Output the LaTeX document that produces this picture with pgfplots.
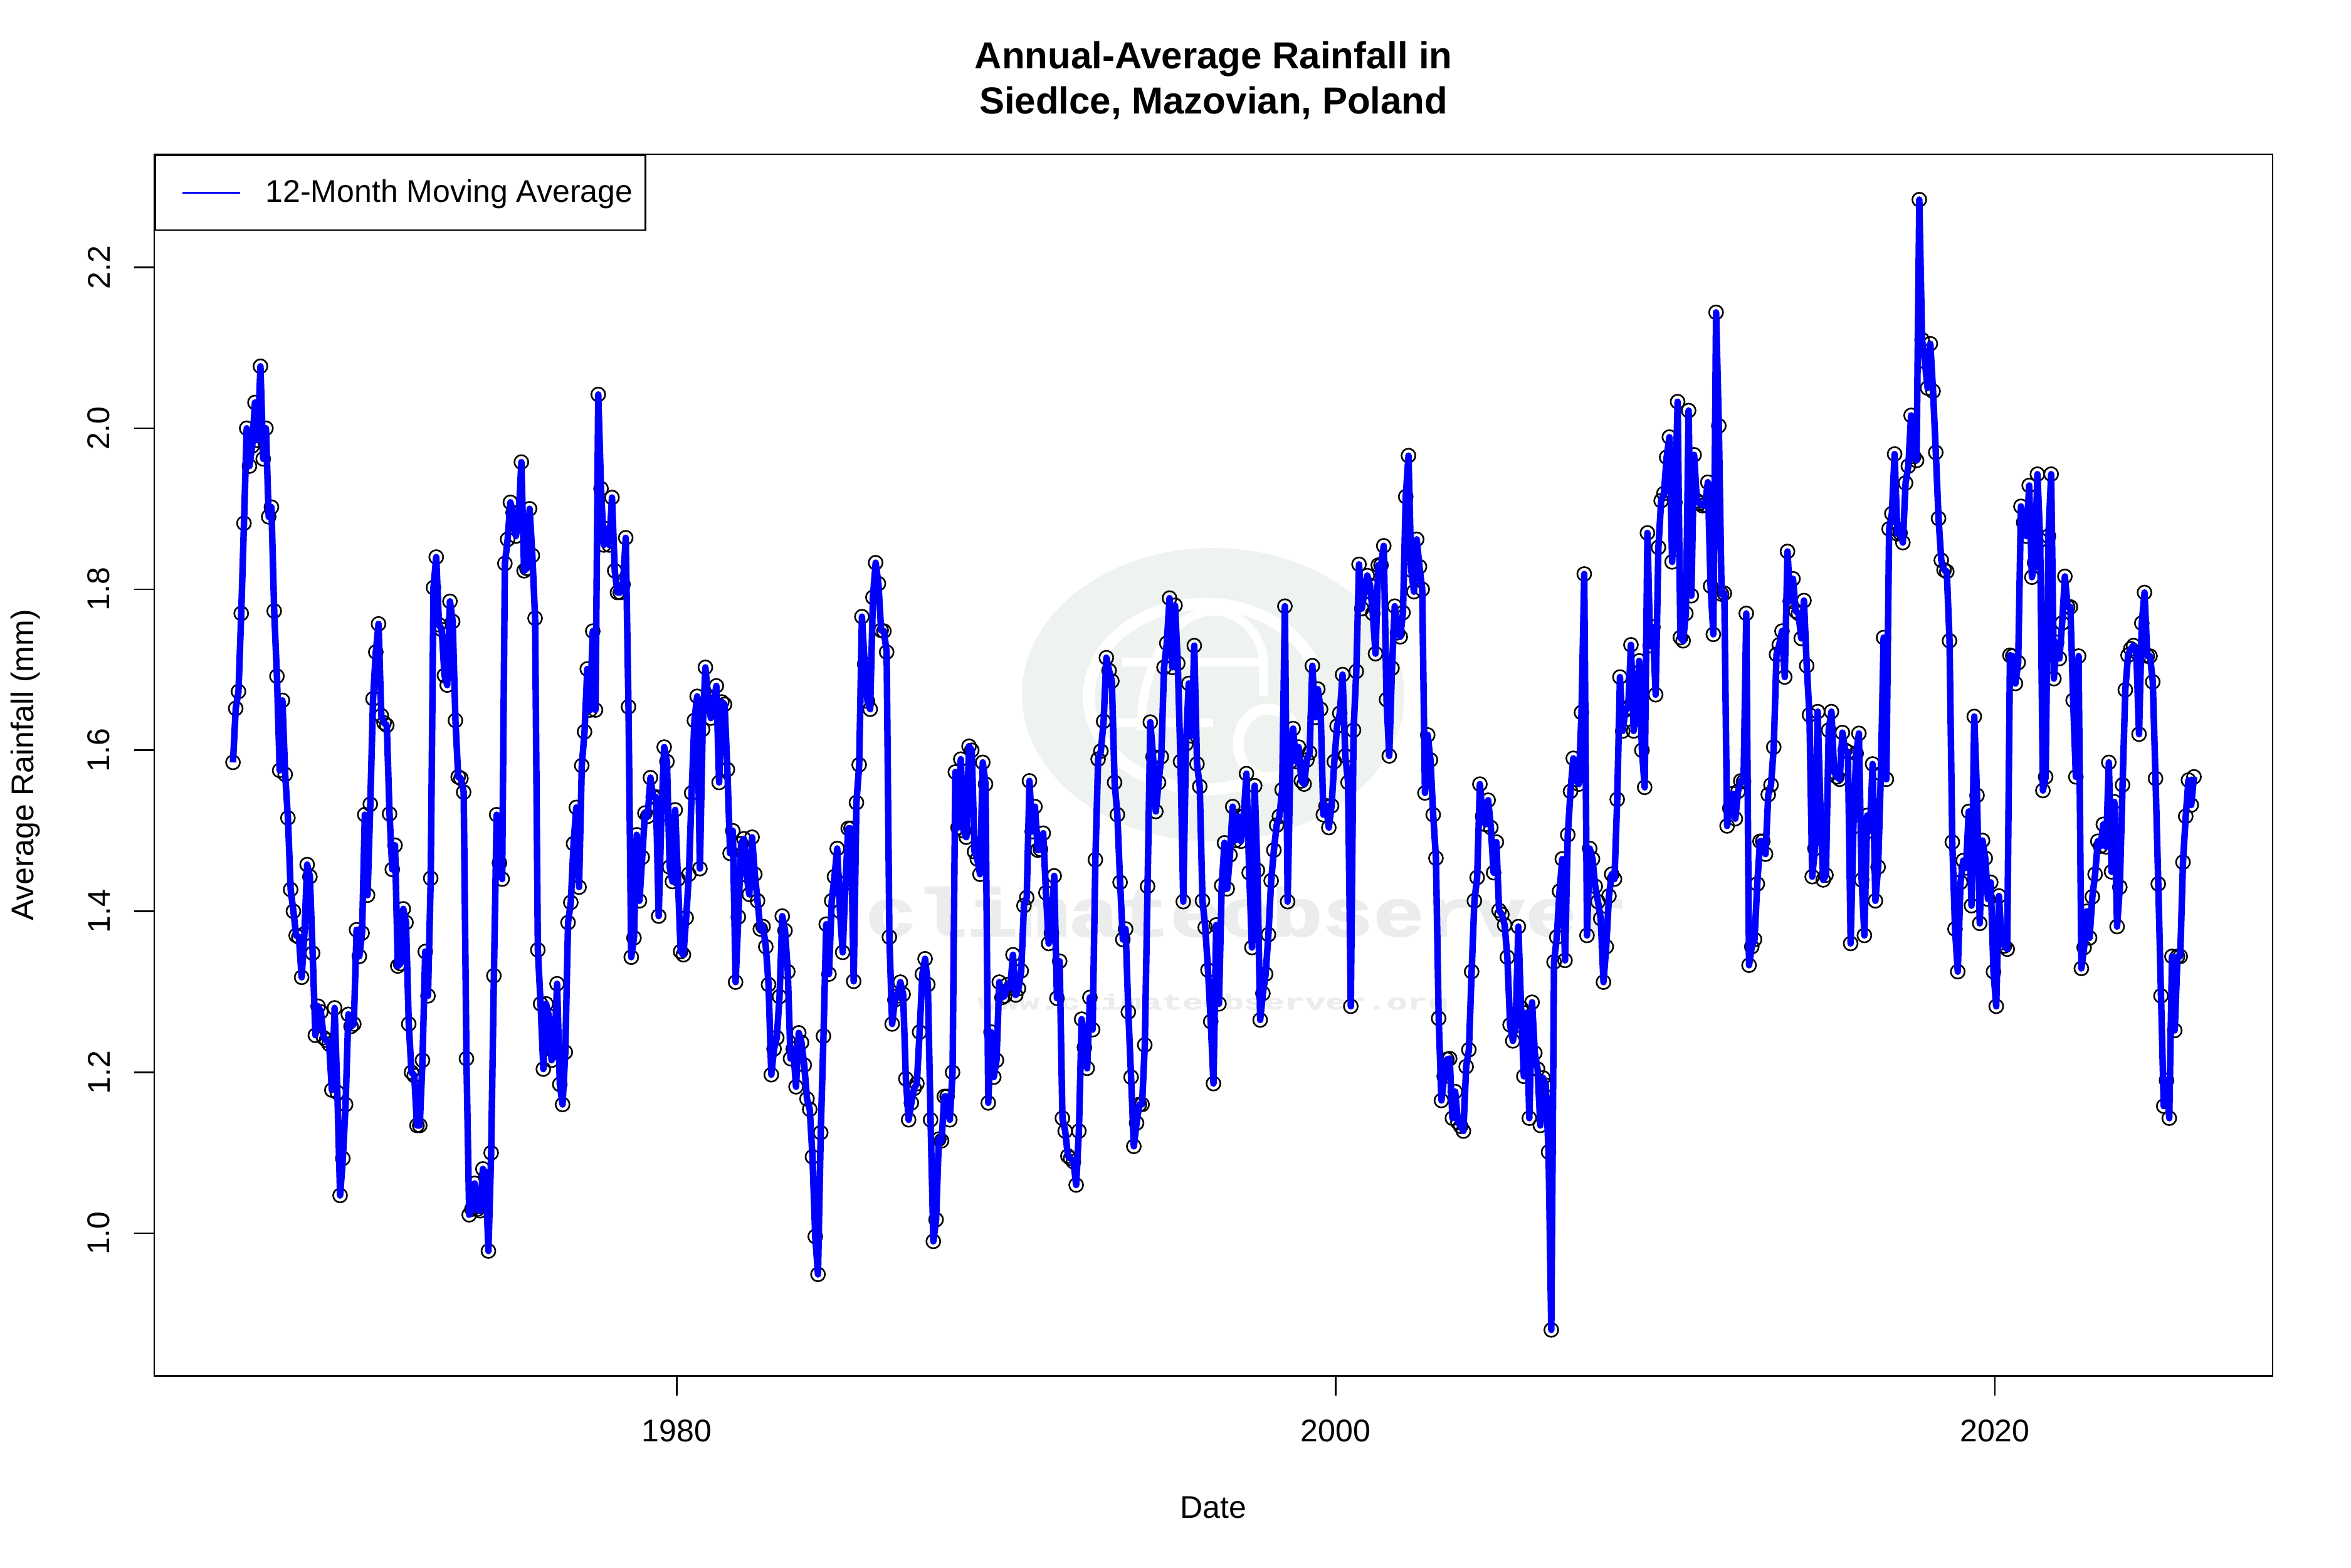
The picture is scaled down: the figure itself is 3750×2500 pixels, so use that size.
\documentclass[border=0pt]{standalone}
\usepackage{fontspec}
\setmainfont{Liberation Sans}
\newfontfamily\wmfont[BoldFeatures={FakeBold=2}]{Liberation Mono}
\usepackage{pgfplots}
\usepackage{pgfplotstable}
\pgfplotsset{compat=1.18}

\definecolor{wmgreen}{HTML}{EFF3F0}
\definecolor{wmgrey}{HTML}{EBECEC}

% monthly 12-month moving average, from Jul 1966, one row per year
\pgfplotstableread[row sep=\\]{
v\\
1.585\\1.652\\1.673\\1.770\\1.882\\2.000\\
1.953\\1.978\\2.032\\1.985\\2.077\\1.962\\2.000\\1.890\\1.902\\1.773\\1.692\\1.575\\
1.662\\1.570\\1.516\\1.427\\1.400\\1.370\\1.368\\1.318\\1.372\\1.458\\1.443\\1.348\\
1.246\\1.282\\1.275\\1.243\\1.240\\1.235\\1.178\\1.280\\1.175\\1.047\\1.093\\1.160\\
1.272\\1.257\\1.260\\1.377\\1.344\\1.373\\1.520\\1.420\\1.533\\1.664\\1.722\\1.757\\
1.643\\1.634\\1.631\\1.521\\1.452\\1.482\\1.332\\1.335\\1.403\\1.386\\1.260\\1.200\\
1.196\\1.134\\1.134\\1.215\\1.350\\1.295\\1.441\\1.802\\1.840\\1.756\\1.750\\1.693\\
1.681\\1.785\\1.760\\1.637\\1.567\\1.565\\1.548\\1.217\\1.023\\1.030\\1.062\\1.030\\
1.028\\1.080\\1.070\\0.978\\1.100\\1.320\\1.520\\1.460\\1.440\\1.832\\1.862\\1.908\\
1.895\\1.866\\1.888\\1.958\\1.823\\1.826\\1.900\\1.842\\1.764\\1.352\\1.285\\1.204\\
1.285\\1.270\\1.215\\1.225\\1.310\\1.185\\1.160\\1.225\\1.386\\1.411\\1.484\\1.529\\
1.430\\1.581\\1.623\\1.701\\1.650\\1.748\\1.650\\2.042\\1.925\\1.855\\1.875\\1.855\\
1.914\\1.823\\1.796\\1.796\\1.806\\1.864\\1.654\\1.343\\1.367\\1.495\\1.413\\1.467\\
1.522\\1.518\\1.566\\1.542\\1.542\\1.394\\1.520\\1.604\\1.586\\1.455\\1.437\\1.526\\
1.440\\1.350\\1.346\\1.392\\1.446\\1.547\\1.637\\1.667\\1.453\\1.626\\1.703\\1.665\\
1.640\\1.660\\1.680\\1.560\\1.660\\1.657\\1.576\\1.472\\1.500\\1.312\\1.393\\1.484\\
1.490\\1.445\\1.421\\1.492\\1.446\\1.413\\1.378\\1.381\\1.356\\1.309\\1.197\\1.229\\
1.243\\1.294\\1.394\\1.376\\1.325\\1.217\\1.229\\1.182\\1.249\\1.237\\1.209\\1.167\\
1.154\\1.095\\0.996\\0.949\\1.125\\1.245\\1.384\\1.322\\1.413\\1.443\\1.478\\1.400\\
1.349\\1.435\\1.503\\1.503\\1.313\\1.535\\1.582\\1.766\\1.707\\1.661\\1.651\\1.790\\
1.833\\1.807\\1.749\\1.748\\1.722\\1.368\\1.260\\1.290\\1.295\\1.312\\1.297\\1.192\\
1.141\\1.162\\1.180\\1.186\\1.250\\1.322\\1.341\\1.309\\1.141\\0.990\\1.017\\1.117\\
1.115\\1.170\\1.170\\1.141\\1.200\\1.573\\1.504\\1.589\\1.500\\1.492\\1.605\\1.600\\
1.474\\1.465\\1.446\\1.585\\1.558\\1.162\\1.250\\1.194\\1.215\\1.312\\1.293\\1.295\\
1.309\\1.305\\1.346\\1.296\\1.304\\1.326\\1.407\\1.417\\1.562\\1.499\\1.530\\1.476\\
1.477\\1.497\\1.423\\1.360\\1.373\\1.444\\1.292\\1.338\\1.143\\1.127\\1.096\\1.093\\
1.089\\1.060\\1.127\\1.266\\1.231\\1.205\\1.293\\1.253\\1.464\\1.589\\1.599\\1.636\\
1.715\\1.699\\1.686\\1.560\\1.520\\1.436\\1.365\\1.378\\1.275\\1.194\\1.108\\1.137\\
1.160\\1.160\\1.234\\1.431\\1.635\\1.592\\1.524\\1.560\\1.592\\1.703\\1.733\\1.789\\
1.703\\1.780\\1.708\\1.586\\1.412\\1.608\\1.683\\1.618\\1.730\\1.583\\1.555\\1.413\\
1.380\\1.327\\1.263\\1.186\\1.383\\1.285\\1.432\\1.485\\1.428\\1.470\\1.530\\1.488\\
1.518\\1.487\\1.518\\1.571\\1.448\\1.355\\1.556\\1.451\\1.265\\1.298\\1.322\\1.371\\
1.438\\1.476\\1.507\\1.518\\1.551\\1.779\\1.412\\1.586\\1.627\\1.586\\1.604\\1.562\\
1.558\\1.588\\1.597\\1.705\\1.641\\1.676\\1.651\\1.520\\1.531\\1.504\\1.531\\1.586\\
1.630\\1.646\\1.694\\1.593\\1.560\\1.282\\1.625\\1.698\\1.831\\1.776\\1.797\\1.817\\
1.805\\1.770\\1.720\\1.830\\1.830\\1.854\\1.663\\1.593\\1.702\\1.779\\1.746\\1.741\\
1.771\\1.915\\1.966\\1.824\\1.797\\1.862\\1.828\\1.800\\1.547\\1.619\\1.588\\1.520\\
1.466\\1.267\\1.165\\1.195\\1.216\\1.217\\1.143\\1.176\\1.138\\1.133\\1.127\\1.207\\
1.228\\1.325\\1.413\\1.442\\1.558\\1.518\\1.508\\1.538\\1.504\\1.448\\1.486\\1.401\\
1.396\\1.383\\1.343\\1.259\\1.239\\1.258\\1.381\\1.280\\1.195\\1.274\\1.143\\1.287\\
1.224\\1.204\\1.134\\1.193\\1.184\\1.101\\0.880\\1.337\\1.368\\1.425\\1.465\\1.339\\
1.495\\1.549\\1.590\\1.564\\1.558\\1.647\\1.819\\1.370\\1.478\\1.465\\1.431\\1.412\\
1.391\\1.312\\1.356\\1.419\\1.446\\1.440\\1.539\\1.691\\1.624\\1.650\\1.653\\1.731\\
1.624\\1.656\\1.711\\1.600\\1.554\\1.870\\1.730\\1.753\\1.669\\1.852\\1.910\\1.919\\
1.964\\1.989\\1.834\\1.908\\2.033\\1.740\\1.736\\1.770\\2.022\\1.792\\1.967\\1.910\\
1.907\\1.904\\1.905\\1.933\\1.804\\1.744\\2.144\\2.003\\1.794\\1.795\\1.506\\1.528\\
1.546\\1.515\\1.549\\1.562\\1.561\\1.770\\1.333\\1.356\\1.365\\1.434\\1.487\\1.487\\
1.471\\1.545\\1.557\\1.604\\1.719\\1.731\\1.748\\1.691\\1.847\\1.785\\1.813\\1.773\\
1.770\\1.739\\1.786\\1.705\\1.644\\1.443\\1.478\\1.648\\1.526\\1.439\\1.445\\1.625\\
1.648\\1.573\\1.567\\1.564\\1.622\\1.600\\1.598\\1.360\\1.505\\1.596\\1.621\\1.439\\
1.370\\1.519\\1.500\\1.583\\1.413\\1.455\\1.571\\1.740\\1.564\\1.875\\1.894\\1.968\\
1.869\\1.870\\1.858\\1.932\\1.953\\2.016\\1.965\\1.960\\2.284\\2.110\\2.083\\2.050\\
2.105\\2.046\\1.970\\1.888\\1.836\\1.824\\1.822\\1.736\\1.486\\1.378\\1.325\\1.436\\
1.463\\1.454\\1.524\\1.407\\1.642\\1.544\\1.385\\1.488\\1.466\\1.415\\1.436\\1.325\\
1.282\\1.419\\1.361\\1.357\\1.353\\1.718\\1.717\\1.683\\1.709\\1.903\\1.883\\1.866\\
1.929\\1.815\\1.833\\1.943\\1.861\\1.550\\1.567\\1.866\\1.943\\1.689\\1.734\\1.714\\
1.758\\1.816\\1.778\\1.778\\1.662\\1.567\\1.717\\1.329\\1.355\\1.400\\1.367\\1.418\\
1.446\\1.487\\1.481\\1.508\\1.480\\1.585\\1.449\\1.536\\1.381\\1.430\\1.557\\1.675\\
1.718\\1.726\\1.730\\1.722\\1.620\\1.758\\1.796\\1.717\\1.717\\1.685\\1.565\\1.434\\
1.295\\1.158\\1.190\\1.143\\1.344\\1.252\\1.344\\1.344\\1.461\\1.518\\1.563\\1.532\\
1.567\\
}\rain

\begin{document}
\begin{tikzpicture}
  % page frame and watermark, in reference pixels
  \begin{scope}[x=0.004in,y=-0.004in,yshift=10in]
    \useasboundingbox (0,0) rectangle (3750,2500);
    \fill[wmgreen] (1935,1108) ellipse [x radius=305,y radius=234];
    \draw[white,line width=5.5pt] (1985,1250) arc [start angle=70,end angle=340,x radius=185,y radius=148,shift={(0,0)}];
    \draw[white,line width=4pt] (1790,1056) -- (2023,1056);
    \draw[white,line width=4pt] (1782,1153) -- (1935,1153);
    \draw[white,line width=4pt] (1935,975) arc [start angle=-90,end angle=-180,x radius=115,y radius=190];
    \draw[white,line width=4pt] (1935,975) arc [start angle=-90,end angle=0,x radius=80,y radius=85];
    \draw[white,line width=4pt] (2015,1056) -- (2015,1110);
    \draw[white,line width=5pt] (2023,1186) ellipse [x radius=48,y radius=55];
    \node[font=\wmfont\bfseries\fontsize{31.2}{34}\selectfont,text=wmgrey,xscale=1.25,inner sep=0,anchor=base] at (1988,1493) {climateobserver};
    \node[font=\wmfont\bfseries\fontsize{10}{12}\selectfont,text=wmgrey,xscale=1.57,inner sep=0,anchor=base] at (1935,1610) {www.climateobserver.org};
  \end{scope}
  \begin{axis}[
      at={(0.984in,1.228in)},
      anchor=south west,
      scale only axis,
      width=13.508in,
      height=7.788in,
      xmin=1964.153, xmax=2028.43,
      ymin=0.8231, ymax=2.3403,
      axis line style={line width=0.75bp},
      every tick/.style={black,line width=0.75bp},
      tick align=outside,
      tick pos=lower,
      major tick length=9.25pt,
      clip marker paths=true,
      xtick={1980,2000,2020},
      ytick={1.0,1.2,1.4,1.6,1.8,2.0,2.2},
      /pgf/number format/assume math mode=true,
      x tick label style={/pgf/number format/1000 sep={},yshift=-7.6pt,font=\fontsize{14.45}{17}\selectfont},
      y tick label style={/pgf/number format/fixed,/pgf/number format/fixed zerofill,/pgf/number format/precision=1,rotate=90,anchor=south,inner sep=0pt,yshift=11pt,font=\fontsize{14.45}{17}\selectfont},
      title={Annual-Average Rainfall in\\Siedlce, Mazovian, Poland},
      title style={font=\bfseries\fontsize{17.34}{20.8}\selectfont,align=center,yshift=6.5pt},
      xlabel={Date},
      xlabel style={at={(axis description cs:0.5,-0.1166)},anchor=base,font=\fontsize{14.45}{17}\selectfont},
      ylabel={Average Rainfall (mm)},
      ylabel style={at={(axis description cs:-0.05715,0.5)},anchor=base,rotate=0,font=\fontsize{14.45}{17}\selectfont},
      legend style={at={(axis description cs:0,1)},anchor=north west,draw=black,line width=0.75bp,
        inner xsep=3.9pt,inner ysep=9.3pt,font=\fontsize{14.45}{17}\selectfont,legend cell align=left},
      legend image code/.code={
        \draw[blue,line width=0.75bp] (0pt,0pt) -- (26.6pt,0pt);
        \path[draw=none] (-8.8pt,0pt) -- (36.2pt,0pt);
      },
    ]
    % points first, the line goes over them
    \addplot[only marks,forget plot,mark=o,mark size=3.2pt,
      mark options={draw=black,line width=0.75bp}]
      table[x expr=1966.54+\coordindex/12,y=v] {\rain};
    \addplot[blue,line width=3bp,no markers,line join=round]
      table[x expr=1966.54+\coordindex/12,y=v] {\rain};
    \addlegendentry{12-Month Moving Average}
  \end{axis}
\end{tikzpicture}
\end{document}
